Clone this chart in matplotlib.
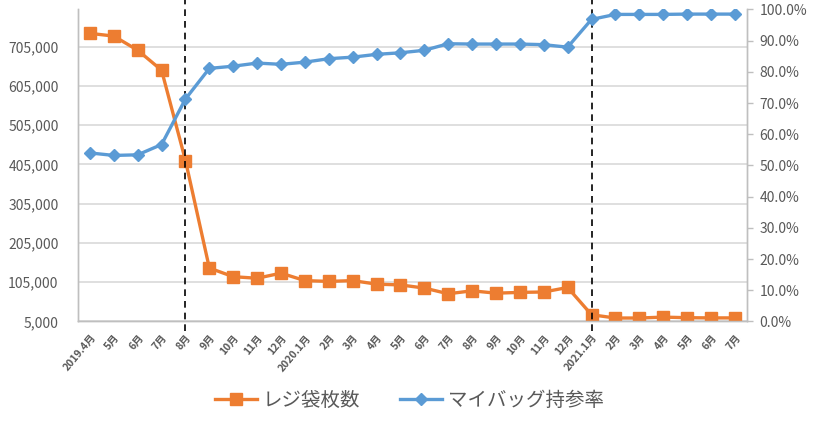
import numpy as np
import matplotlib
matplotlib.use('Agg')
import matplotlib.pyplot as plt
from matplotlib.ticker import FuncFormatter

plt.rcParams['font.family'] = ['Noto Sans CJK JP', 'DejaVu Sans']

### --- Data ---
months = ['2019.4月', '5月', '6月', '7月', '8月', '9月', '10月', '11月', '12月',
          '2020.1月', '2月', '3月', '4月', '5月', '6月', '7月', '8月', '9月', '10月', '11月', '12月',
          '2021.1月', '2月', '3月', '4月', '5月', '6月', '7月']

# レジ袋枚数 (left axis)
bags = [739000, 732000, 696000, 645000, 415000, 141000, 119000, 115000, 128000,
        109000, 107000, 109000, 100000, 98000, 90000, 75500, 83000, 77000, 79000, 80000, 91500,
        22000, 13700, 13700, 16000, 14500, 14000, 14000]

# マイバッグ持参率 (right axis)
mybag_rate = [0.540, 0.532, 0.534, 0.567, 0.713, 0.811, 0.818, 0.828, 0.824,
              0.831, 0.842, 0.847, 0.856, 0.861, 0.869, 0.890, 0.889, 0.889, 0.889, 0.887, 0.879,
              0.968, 0.984, 0.984, 0.984, 0.985, 0.985, 0.985]

# months where the dashed markers are drawn (2019.8月 and 2021.1月)
event_idx = [4, 21]

orange = '#ED7D31'
blue = '#5B9BD5'
grid_col = '#D9D9D9'
text_col = '#595959'

### --- Plot ---
fig = plt.figure(figsize=(8.27, 4.28), dpi=100)
ax1 = fig.add_axes([0.0943, 0.249, 0.8087, 0.729])
ax2 = ax1.twinx()

x = np.arange(len(months))

ax1.plot(x, bags, color=orange, lw=2.4, marker='s', ms=9, label='レジ袋枚数', zorder=3)
ax2.plot(x, mybag_rate, color=blue, lw=2.4, marker='D', ms=6, label='マイバッグ持参率', zorder=3)

# left axis
ax1.set_ylim(5000, 800000)
ax1.set_yticks(np.arange(5000, 800000, 100000))
ax1.yaxis.set_major_formatter(FuncFormatter(lambda v, p: f'{int(v):,}'))
ax1.grid(axis='y', color=grid_col, lw=1.2)
ax1.set_axisbelow(True)
ax1.tick_params(axis='y', length=0, pad=14, labelsize=10, labelcolor=text_col)

# right axis
ax2.set_ylim(0, 1.0)
ax2.set_yticks(np.arange(0, 1.01, 0.1))
ax2.yaxis.set_major_formatter(FuncFormatter(lambda v, p: f'{v * 100:.1f}%'))
ax2.tick_params(axis='y', length=4, width=1, color='#BFBFBF', pad=5, labelsize=10, labelcolor=text_col)

# x axis
ax1.set_xlim(-0.5, len(months) - 0.5)
ax1.set_xticks(x)
ax1.set_xticklabels(months, rotation=50, ha='right', va='top', rotation_mode='anchor',
                    fontsize=7.5, color=text_col, fontweight='bold')
ax1.tick_params(axis='x', length=0, pad=8)

for ax in (ax1, ax2):
    ax.spines['top'].set_visible(False)
    for s in ('left', 'right', 'bottom'):
        ax.spines[s].set_color('#BFBFBF')
        ax.spines[s].set_linewidth(1)

# dashed separators
for i in event_idx:
    ax1.axvline(i, ymin=-0.03, ymax=1.03, color='black', ls=(0, (4, 3)), lw=1.2,
                clip_on=False, zorder=4)

# legend
h1, l1 = ax1.get_legend_handles_labels()
h2, l2 = ax2.get_legend_handles_labels()
fig.legend(h1 + h2, l1 + l2, loc='center', bbox_to_anchor=(0.495, 0.065), ncol=2,
           frameon=False, fontsize=14, handlelength=2.2, columnspacing=2.0,
           handletextpad=0.3, labelcolor=text_col)

fig.savefig('out.png', dpi=100)
